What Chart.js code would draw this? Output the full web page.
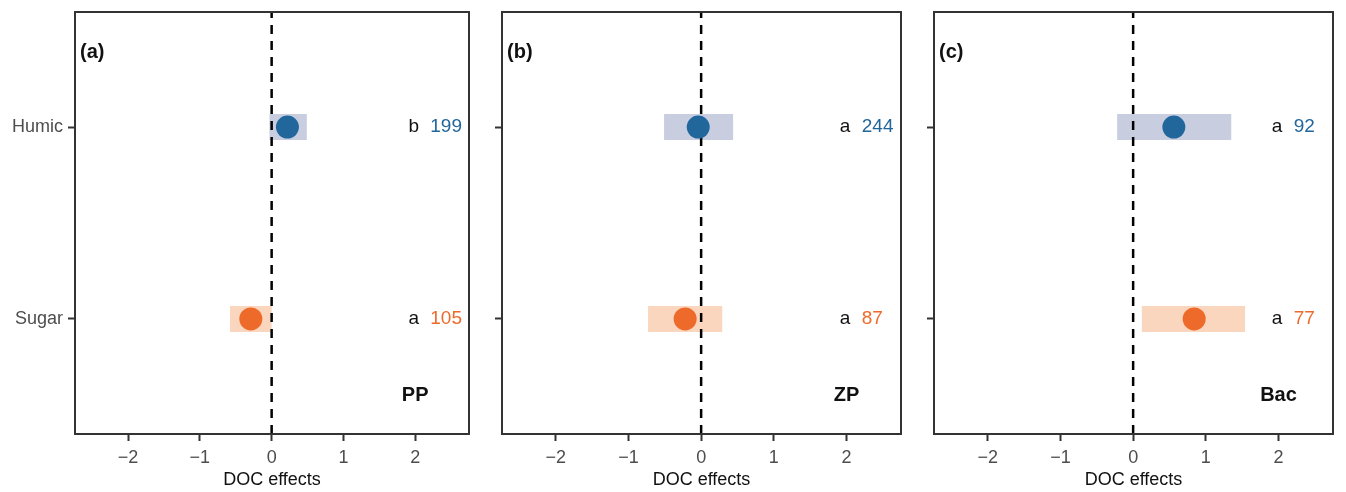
<!DOCTYPE html>
<html>
<head>
<meta charset="utf-8">
<script src="https://cdn.jsdelivr.net/npm/chart.js@4/dist/chart.umd.min.js"></script>
<style>
  body { margin: 0; background: #fff; }
  #wrap { position: relative; width: 1346px; height: 492px; }
  .panel { position: absolute; top: 0; }
</style>
</head>
<body>
<div id="wrap">
  <canvas class="panel" id="c0" width="475" height="492" style="left:0px"></canvas>
  <canvas class="panel" id="c1" width="480" height="492" style="left:427px"></canvas>
  <canvas class="panel" id="c2" width="480" height="492" style="left:859px"></canvas>
</div>
<script>
// values
const categories = ["Humic", "Sugar"];
const panelTags = ["(a)", "(b)", "(c)"];
const panelNames = ["PP", "ZP", "Bac"];
const humicMean = [0.22, -0.04, 0.56];
const humicLow = [-0.03, -0.51, -0.22];
const humicHigh = [0.49, 0.44, 1.35];
const sugarMean = [-0.29, -0.22, 0.84];
const sugarLow = [-0.58, -0.73, 0.12];
const sugarHigh = [0.0, 0.29, 1.54];
const humicLetters = ["b", "a", "a"];
const sugarLetters = ["a", "a", "a"];
const humicN = [199, 244, 92];
const sugarN = [105, 87, 77];
const xTicks = [-2, -1, 0, 1, 2];

const FONT = "'Liberation Sans', Arial, sans-serif";
const BLUE = "#22679c";
const ORANGE = "#ee6a2a";
const BLUE_CI = "#c8cde0";
const ORANGE_CI = "#f9d6bd";
const catY = { Humic: 2, Sugar: 1 };

function noPad(s) {
  s.paddingTop = 0; s.paddingBottom = 0; s.paddingLeft = 0; s.paddingRight = 0;
}

function makePanel(i) {
  const ctx = document.getElementById("c" + i).getContext("2d");

  const annotate = {
    id: "annotate",
    afterDatasetsDraw(chart) {
      const { ctx, chartArea: a, scales } = chart;
      const x = scales.x, y = scales.y;
      ctx.save();
      // frame
      ctx.strokeStyle = "#333";
      ctx.lineWidth = 2;
      ctx.strokeRect(a.left, a.top, a.right - a.left, a.bottom - a.top);

      // significance letters + sample sizes
      ctx.font = "19px " + FONT;
      ctx.textBaseline = "middle";
      const rows = [
        [catY.Humic, humicLetters[i], humicN[i], BLUE],
        [catY.Sugar, sugarLetters[i], sugarN[i], ORANGE]
      ];
      rows.forEach(([yv, letter, n, col]) => {
        const py = y.getPixelForValue(yv);
        ctx.fillStyle = "#111";
        ctx.textAlign = "center";
        ctx.fillText(letter, x.getPixelForValue(1.98), py);
        ctx.fillStyle = col;
        ctx.textAlign = "left";
        ctx.fillText(String(n), x.getPixelForValue(2.21), py);
      });

      // panel tag and group name
      ctx.font = "bold 20px " + FONT;
      ctx.fillStyle = "#111";
      ctx.textAlign = "left";
      ctx.fillText(panelTags[i], a.left + 5, y.getPixelForValue(2.39));
      ctx.textAlign = "center";
      ctx.fillText(panelNames[i], x.getPixelForValue(2.0), y.getPixelForValue(0.6));
      ctx.restore();
    }
  };

  return new Chart(ctx, {
    type: "scatter",
    data: {
      datasets: [
        {
          label: "Humic",
          data: [{ x: humicMean[i], y: catY.Humic }],
          backgroundColor: BLUE,
          borderWidth: 0,
          pointRadius: 11.5
        },
        {
          label: "Sugar",
          data: [{ x: sugarMean[i], y: catY.Sugar }],
          backgroundColor: ORANGE,
          borderWidth: 0,
          pointRadius: 11.5
        },
        {
          label: "zero",
          type: "line",
          data: [{ x: 0, y: 0.4 }, { x: 0, y: 2.6 }],
          borderColor: "#000",
          borderWidth: 2.5,
          borderDash: [9, 7],
          pointRadius: 0
        },
        {
          label: "Humic CI",
          type: "line",
          data: [{ x: humicLow[i], y: catY.Humic }, { x: humicHigh[i], y: catY.Humic }],
          borderColor: BLUE_CI,
          borderWidth: 26,
          borderCapStyle: "butt",
          pointRadius: 0
        },
        {
          label: "Sugar CI",
          type: "line",
          data: [{ x: sugarLow[i], y: catY.Sugar }, { x: sugarHigh[i], y: catY.Sugar }],
          borderColor: ORANGE_CI,
          borderWidth: 26,
          borderCapStyle: "butt",
          pointRadius: 0
        }
      ]
    },
    options: {
      responsive: false,
      animation: false,
      layout: { autoPadding: false, padding: { top: 12, right: 6, left: 0, bottom: 0 } },
      plugins: { legend: { display: false }, tooltip: { enabled: false } },
      scales: {
        x: {
          type: "linear",
          min: -2.74,
          max: 2.75,
          afterBuildTicks: (s) => { s.ticks = xTicks.map(v => ({ value: v })); },
          afterFit: (s) => { s.height = 58; noPad(s); },
          border: { display: false },
          grid: { drawOnChartArea: false, drawTicks: true, tickLength: 7, tickWidth: 2, tickColor: "#333" },
          ticks: {
            color: "#4d4d4d",
            font: { family: FONT, size: 18 },
            padding: 6,
            maxRotation: 0,
            callback: (v) => (v < 0 ? "\u2212" + Math.abs(v) : String(v))
          },
          title: {
            display: true,
            text: "DOC effects",
            color: "#111",
            font: { family: FONT, size: 18 },
            padding: { top: 0, bottom: 1 }
          }
        },
        y: {
          type: "linear",
          min: 0.4,
          max: 2.6,
          afterBuildTicks: (s) => { s.ticks = categories.map(c => ({ value: catY[c] })); },
          afterFit: (s) => { s.width = 75; noPad(s); },
          border: { display: false },
          grid: { drawOnChartArea: false, drawTicks: true, tickLength: 7, tickWidth: 2, tickColor: "#333" },
          ticks: {
            color: "#4d4d4d",
            font: { family: FONT, size: 18 },
            padding: 5,
            callback: (v) => (i === 0 ? categories.find(c => catY[c] === v) : "")
          }
        }
      }
    },
    plugins: [annotate]
  });
}

[0, 1, 2].forEach(makePanel);
</script>
</body>
</html>
